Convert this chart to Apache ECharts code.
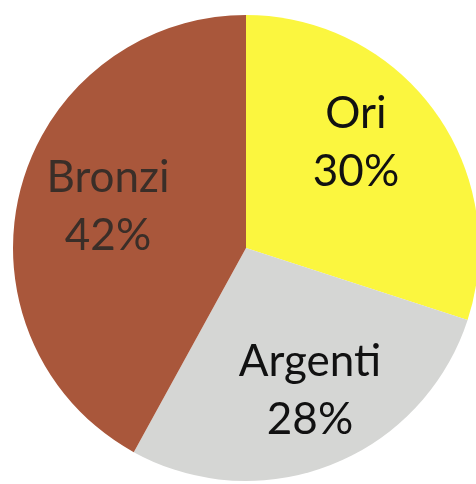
<!DOCTYPE html>
<html>
<head>
<meta charset="utf-8">
<script src="https://cdn.jsdelivr.net/npm/echarts@6/dist/echarts.min.js"></script>
<style>
  html, body { margin: 0; padding: 0; background: #fff; }
  #main { width: 476px; height: 484px; }
</style>
</head>
<body>
<div id="main"></div>
<script>
// dati
var categories = ['Ori', 'Argenti', 'Bronzi'];
var percentages = [30, 28, 42];

var colors = ['#fbf63f', '#d5d6d4', '#a9573b'];
var labelColors = ['#111', '#111', '#3a2e28'];
// centro delle etichette (px)
var labelPos = [[356, 143], [310, 391], [108, 207]];

var chartDom = document.getElementById('main');
var myChart = echarts.init(chartDom);

var option = {
  animation: false,
  series: [
    {
      type: 'pie',
      center: [246, 248],
      radius: 233,
      startAngle: 90,
      clockwise: true,
      label: {
        show: true,
        position: 'inside',
        formatter: '{b}\n{d}%',
        fontFamily: 'Lato',
        fontSize: 44,
        lineHeight: 58,
        align: 'center',
        verticalAlign: 'middle'
      },
      labelLine: { show: false },
      labelLayout: function (params) {
        var p = labelPos[params.dataIndex];
        return { x: p[0], y: p[1] };
      },
      itemStyle: { borderWidth: 0 },
      emphasis: { disabled: true },
      data: categories.map(function (name, i) {
        return {
          name: name,
          value: percentages[i],
          itemStyle: { color: colors[i] },
          label: { color: labelColors[i] }
        };
      })
    }
  ]
};

myChart.setOption(option);
</script>
</body>
</html>
